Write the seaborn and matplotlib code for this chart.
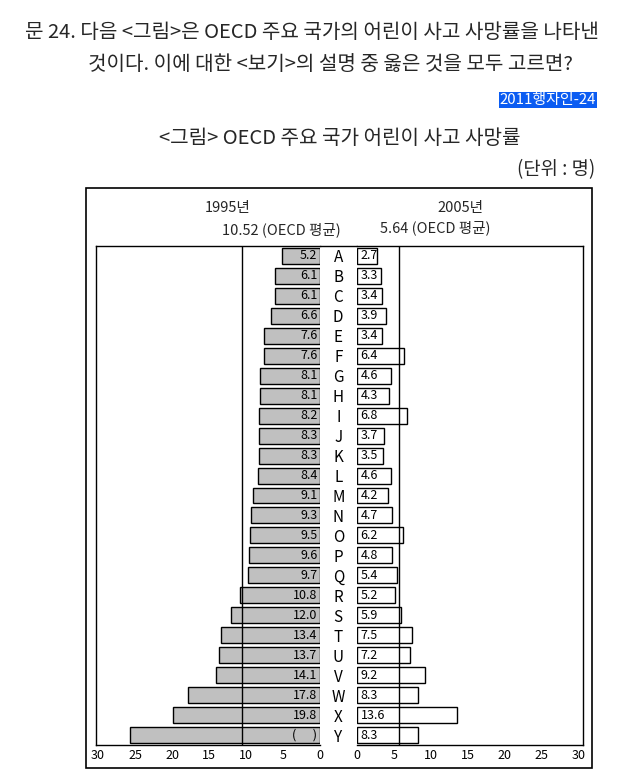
import matplotlib
matplotlib.use("Agg")
import matplotlib.pyplot as plt
import seaborn as sns
import pandas as pd
from matplotlib.patches import Rectangle
from matplotlib.lines import Line2D

countries = list("ABCDEFGHIJKLMNOPQRSTUVWXY")
rate_1995 = [5.2, 6.1, 6.1, 6.6, 7.6, 7.6, 8.1, 8.1, 8.2, 8.3, 8.3, 8.4, 9.1,
             9.3, 9.5, 9.6, 9.7, 10.8, 12.0, 13.4, 13.7, 14.1, 17.8, 19.8, 25.7]
labels_1995 = [f"{v:.1f}" for v in rate_1995[:-1]] + ["(      )"]
rate_2005 = [2.7, 3.3, 3.4, 3.9, 3.4, 6.4, 4.6, 4.3, 6.8, 3.7, 3.5, 4.6, 4.2,
             4.7, 6.2, 4.8, 5.4, 5.2, 5.9, 7.5, 7.2, 9.2, 8.3, 13.6, 8.3]
labels_2005 = [f"{v:.1f}" for v in rate_2005]
oecd_avg_1995 = 10.52
oecd_avg_2005 = 5.64
xticks = [0, 5, 10, 15, 20, 25, 30]

df = pd.DataFrame({"country": countries, "y1995": rate_1995, "y2005": rate_2005})

sns.set_theme(style="white")
plt.rcParams['font.family'] = ['Noto Sans CJK KR', 'DejaVu Sans']

W, H = 624, 770
fig = plt.figure(figsize=(W / 100, H / 100), dpi=100)


def fx(px):
    return px / W


def fy(py):
    return 1 - py / H


top, bottom = 246, 745
ax_l = fig.add_axes([fx(96), fy(bottom), fx(320 - 96), (bottom - top) / H])
ax_r = fig.add_axes([fx(357), fy(bottom), fx(583 - 357), (bottom - top) / H])

sns.barplot(data=df, x="y1995", y="country", orient="h", ax=ax_l,
            color="#c0c0c0", edgecolor="black", linewidth=1.0, width=0.8,
            saturation=1)
sns.barplot(data=df, x="y2005", y="country", orient="h", ax=ax_r,
            color="white", edgecolor="black", linewidth=1.0, width=0.8,
            saturation=1)

ax_l.set_xlim(30.27, 0)
ax_r.set_xlim(0, 30.6)
for ax in (ax_l, ax_r):
    ax.set_ylim(24.5, -0.5)
    ax.set_xlabel("")
    ax.set_ylabel("")
    ax.set_xticks(xticks)
    ax.set_xticklabels([str(t) for t in xticks], fontsize=9)
    ax.tick_params(axis="x", length=0, pad=3, colors="black")
    for s in ax.spines.values():
        s.set_color("black")
        s.set_linewidth(1.0)

ax_l.spines["right"].set_visible(False)
ax_l.set_yticks([])
ax_r.spines["left"].set_visible(False)
ax_r.set_yticks(range(len(countries)))
ax_r.set_yticklabels(countries, fontsize=11, ha="center")
ax_r.tick_params(axis="y", length=0, pad=13.5, colors="black")

ax_l.axvline(oecd_avg_1995, color="black", lw=1.0, zorder=3)
ax_r.axvline(oecd_avg_2005, color="black", lw=1.0, zorder=3)

for i, lab in enumerate(labels_1995):
    ax_l.annotate(lab, (0, i), xytext=(-1.8, 0), textcoords="offset points",
                  ha="right", va="center", fontsize=9, color="black")
for i, lab in enumerate(labels_2005):
    ax_r.annotate(lab, (0, i), xytext=(2.5, 0), textcoords="offset points",
                  ha="left", va="center", fontsize=9, color="black")

# top border joining the two panels
fig.add_artist(Line2D([fx(320), fx(357)], [fy(top), fy(top)], color="black", lw=1.0))

# outer frame
fig.add_artist(Rectangle((fx(86), fy(768)), fx(592 - 86), (768 - 188) / H,
                         fill=False, edgecolor="black", lw=1.2))

# panel headers
fig.text(fx(228), fy(208), "1995년", ha="center", va="center", fontsize=10.5)
fig.text(fx(460), fy(208), "2005년", ha="center", va="center", fontsize=10.5)
fig.text(fx(281), fy(230), "10.52 (OECD 평균)", ha="center", va="center", fontsize=10.5)
fig.text(fx(435), fy(228), "5.64 (OECD 평균)", ha="center", va="center", fontsize=10.5)

# question text
fig.text(fx(25), fy(33), "문 24. 다음 <그림>은 OECD 주요 국가의 어린이 사고 사망률을 나타낸",
         ha="left", va="center", fontsize=14.5)
fig.text(fx(88), fy(65), "것이다. 이에 대한 <보기>의 설명 중 옳은 것을 모두 고르면?",
         ha="left", va="center", fontsize=14.5)
fig.text(fx(596), fy(100), "2011행자인-24", ha="right", va="center", fontsize=10.8,
         color="white", bbox=dict(boxstyle="square,pad=0.05", fc="#0b5cf2", ec="none"))
fig.text(fx(340), fy(138), "<그림> OECD 주요 국가 어린이 사고 사망률",
         ha="center", va="center", fontsize=14.5)
fig.text(fx(595), fy(170), "(단위 : 명)", ha="right", va="center", fontsize=13.5)

fig.savefig("out.png", dpi=100)
